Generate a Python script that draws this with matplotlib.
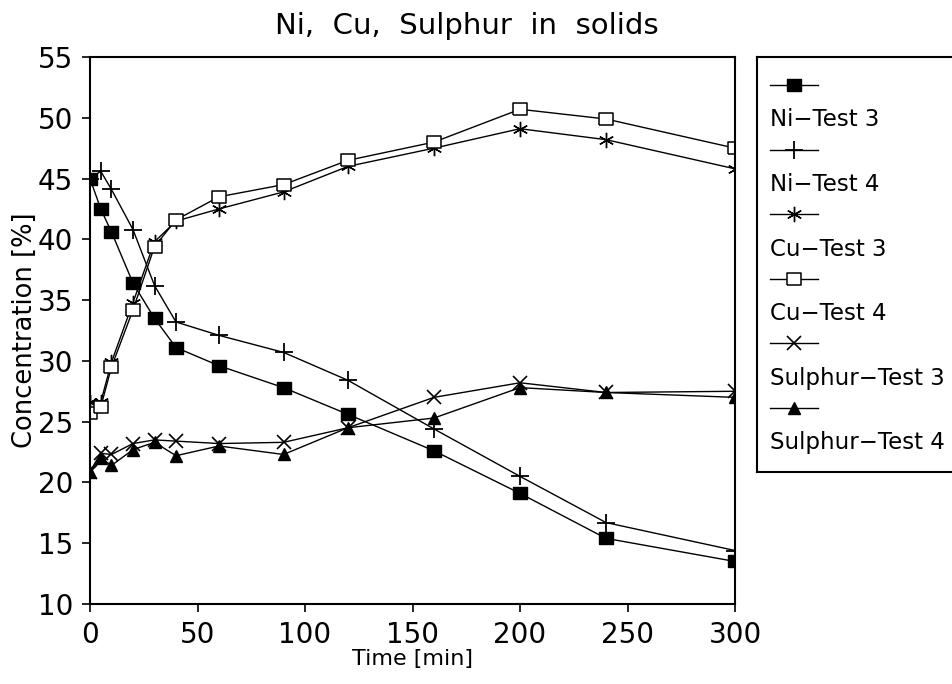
import matplotlib
matplotlib.use('Agg')
import matplotlib.pyplot as plt

# time points [min]
time = [0, 5, 10, 20, 30, 40, 60, 90, 120, 160, 200, 240, 300]

# concentrations [%]
ni_test3 = [45.0, 42.5, 40.6, 36.4, 33.5, 31.1, 29.6, 27.8, 25.6, 22.6, 19.1, 15.4, 13.5]
ni_test4 = [45.0, 45.6, 44.1, 40.8, 36.2, 33.2, 32.1, 30.7, 28.4, 24.4, 20.5, 16.7, 14.4]
cu_test3 = [26.6, 26.6, 29.9, 34.8, 39.8, 41.5, 42.5, 43.9, 46.0, 47.5, 49.1, 48.2, 45.8]
cu_test4 = [25.7, 26.2, 29.5, 34.2, 39.4, 41.6, 43.5, 44.5, 46.5, 48.0, 50.7, 49.9, 47.5]
s_test3 = [20.9, 22.4, 22.3, 23.2, 23.5, 23.4, 23.2, 23.3, 24.5, 27.0, 28.2, 27.4, 27.5]
s_test4 = [20.9, 22.0, 21.4, 22.7, 23.3, 22.2, 23.0, 22.3, 24.5, 25.3, 27.8, 27.4, 27.0]

labels = ['Ni\u2212Test 3', 'Ni\u2212Test 4', 'Cu\u2212Test 3', 'Cu\u2212Test 4',
          'Sulphur\u2212Test 3', 'Sulphur\u2212Test 4']
series = [ni_test3, ni_test4, cu_test3, cu_test4, s_test3, s_test4]

RECT = [(-1.25, -1), (1.25, -1), (1.25, 1), (-1.25, 1), (-1.25, -1)]
styles = [
    dict(marker=RECT, markersize=10, markerfacecolor='black'),
    dict(marker='+', markersize=13, markeredgewidth=1.3),
    dict(marker=(6, 2, 0), markersize=11, markeredgewidth=1.0),
    dict(marker=RECT, markersize=10, markerfacecolor='white', markeredgewidth=1.1),
    dict(marker='x', markersize=10, markeredgewidth=1.2),
    dict(marker='^', markersize=9, markerfacecolor='black'),
]

plt.rcParams['font.family'] = ['DejaVu Sans']

W, H = 953, 684
fig = plt.figure(figsize=(W / 100, H / 100), dpi=100)
ax = fig.add_axes([90 / W, 1 - 604 / H, 645 / W, 547 / H])

for vals, st in zip(series, styles):
    ax.plot(time, vals, color='black', lw=1.0, markeredgecolor='black', **st)

ax.set_xlim(0, 300)
ax.set_ylim(10, 55)
ax.set_xticks(range(0, 301, 50))
ax.set_yticks(range(10, 56, 5))
ax.tick_params(direction='out', length=6, width=1.2, labelsize=20, pad=6)
for sp in ax.spines.values():
    sp.set_linewidth(1.5)

ax.set_xlabel('Time [min]', fontsize=16)
ax.xaxis.set_label_coords(0.5, -(649 - 604) / 547)
ax.set_ylabel('Concentration [%]', fontsize=18.5)
ax.yaxis.set_label_coords(-(90 - 38) / 645, 0.5)
fig.text(467 / W, 1 - 26 / H, 'Ni,  Cu,  Sulphur  in  solids', fontsize=21,
         ha='center', va='center')

# legend box, drawn by hand (handle above label)
lax = fig.add_axes([757 / W, 1 - 472 / H, 1.02 - 757 / W, 415 / H])
lax.set_xlim(757, 757 + (1.02 - 757 / W) * W)
lax.set_ylim(472, 57)
lax.set_xticks([])
lax.set_yticks([])
for sp in lax.spines.values():
    sp.set_linewidth(1.5)
for i, (lab, st) in enumerate(zip(labels, styles)):
    y = 85 + i * 64.6
    lax.plot([770, 794, 818], [y, y, y], color='black', lw=1.0,
             markeredgecolor='black', markevery=[1], **st)
    lax.text(770, y + 35, lab, fontsize=16.5, ha='left', va='center')

fig.savefig('out.png', dpi=100)
